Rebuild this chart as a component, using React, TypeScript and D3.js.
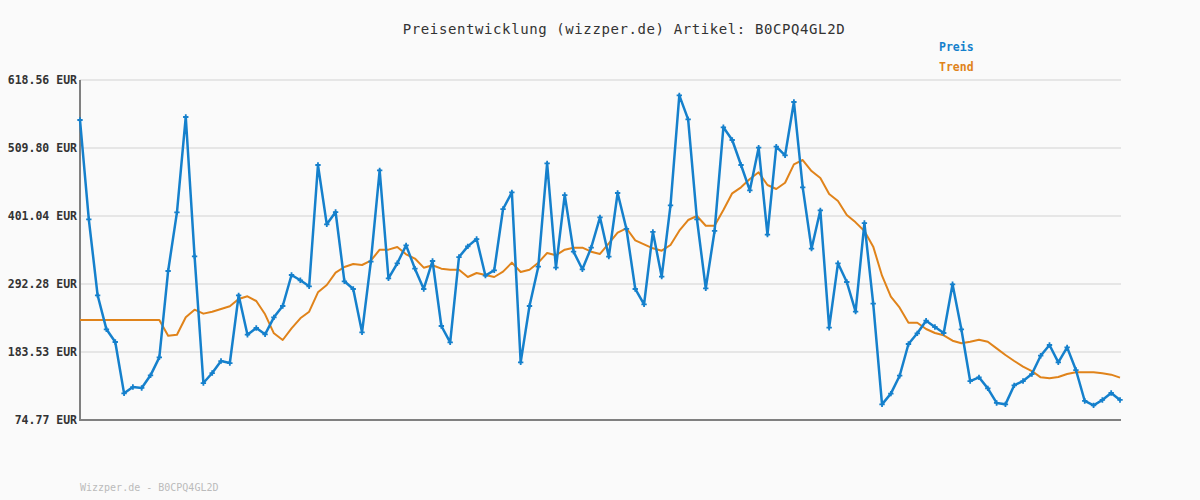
import React from "react";
import * as d3 from "d3";

const TITLE = "Preisentwicklung (wizzper.de) Artikel: B0CPQ4GL2D";
const FOOTER = "Wizzper.de - B0CPQ4GL2D";
const yTicks = [74.77, 183.53, 292.28, 401.04, 509.8, 618.56];
const yTickLabels = ["74.77 EUR", "183.53 EUR", "292.28 EUR", "401.04 EUR", "509.80 EUR", "618.56 EUR"];
const legendLabels = ["Preis", "Trend"];

const preis = [
  554.6, 395.8, 274.2, 219.8, 199.5, 117.4, 127.5, 126.0, 146.2, 175.0,
  313.1, 406.9, 559.4, 336.5, 133.9, 149.9, 169.1, 165.9, 274.2, 211.2,
  221.9, 211.8, 239.0, 257.1, 306.7, 298.2, 288.6, 482.6, 387.7, 407.4,
  296.6, 284.3, 215.0, 328.0, 474.1, 301.4, 325.4, 354.1, 316.8, 284.3,
  329.1, 225.1, 199.0, 335.4, 352.5, 364.2, 305.6, 314.2, 412.2, 438.9,
  167.0, 257.1, 320.0, 485.3, 318.4, 434.6, 344.0, 315.8, 350.4, 398.9,
  336.0, 437.8, 380.3, 284.3, 259.8, 375.5, 304.0, 418.1, 594.0, 555.6,
  395.8, 285.4, 377.1, 542.9, 522.6, 482.6, 442.1, 510.3, 371.2, 511.9,
  498.1, 583.4, 446.9, 348.8, 410.1, 222.4, 325.4, 295.5, 248.0, 389.8,
  260.8, 99.8, 116.9, 145.6, 196.3, 213.4, 233.6, 223.5, 213.9, 291.8,
  219.8, 137.1, 143.0, 125.4, 102.0, 99.8, 130.2, 137.1, 148.3, 177.6,
  194.7, 167.0, 191.0, 154.7, 105.2, 98.2, 106.8, 118.0, 106.8,
];

const trend = [
  234.7, 234.7, 234.7, 234.7, 234.7, 234.7, 234.7, 234.7, 234.7, 234.7,
  209.6, 211.2, 239.0, 251.2, 244.9, 248.0, 252.3, 256.6, 268.3, 272.6,
  265.1, 243.8, 213.4, 202.7, 221.4, 237.4, 248.0, 279.0, 290.7, 310.4,
  319.5, 324.3, 322.7, 329.6, 347.2, 347.2, 351.5, 339.8, 333.0, 318.4,
  322.2, 316.8, 315.2, 315.2, 303.5, 309.9, 306.7, 303.5, 312.0, 326.4,
  311.5, 315.2, 326.4, 341.9, 338.2, 347.2, 350.4, 350.4, 344.0, 340.3,
  357.4, 374.4, 381.4, 362.2, 355.8, 349.4, 345.6, 354.7, 377.5, 394.6,
  401.0, 385.5, 385.5, 410.6, 437.3, 446.9, 460.2, 470.9, 450.6, 444.2,
  454.3, 483.7, 490.6, 473.0, 461.8, 436.2, 425.0, 402.6, 390.9, 377.1,
  352.0, 305.6, 272.0, 254.4, 230.4, 230.4, 220.3, 213.9, 210.2, 201.6,
  197.4, 200.0, 203.2, 200.0, 189.4, 178.7, 169.1, 160.1, 153.1, 143.0,
  141.4, 143.5, 148.3, 151.0, 151.0, 151.0, 149.4, 147.3, 142.5,
];

const BLUE = "#1580cc";
const ORANGE = "#e0831a";
const MONO = "'DejaVu Sans Mono', 'Liberation Mono', monospace";

export default function App() {
  const W = 1200, H = 500;
  const left = 80, right = 1120, top = 80, bottom = 420;
  const x = d3.scaleLinear().domain([0, preis.length - 1]).range([left, right]);
  const y = d3.scaleLinear().domain([74.77, 618.56]).range([bottom, top]);
  const line = d3.line<number>().x((_, i) => x(i)).y((d) => y(d));
  const marker = d3.symbol().type(d3.symbolCross).size(16)() as string;

  return (
    <svg width={W} height={H} style={{ position: "absolute", left: 0, top: 0 }}>
      <rect width={W} height={H} fill="#fafafa" />
      <text x={624} y={34} textAnchor="middle" fontFamily={MONO} fontSize={14} letterSpacing={0.6} fill="#333">
        {TITLE}
      </text>
      <text x={939} y={51} fontFamily={MONO} fontSize={11.5} fontWeight="bold" fill={BLUE}>{legendLabels[0]}</text>
      <text x={939} y={71} fontFamily={MONO} fontSize={11.5} fontWeight="bold" fill={ORANGE}>{legendLabels[1]}</text>
      {yTicks.map((t, i) => (
        <g key={i}>
          {i > 0 && <line x1={left} x2={right + 1} y1={y(t)} y2={y(t)} stroke="#e6e6e6" strokeWidth={2} />}
          <text x={77} y={y(t) + 4} textAnchor="end" fontFamily={MONO} fontSize={11.5} fontWeight="bold" fill="#333">
            {yTickLabels[i]}
          </text>
        </g>
      ))}
      <line x1={left} x2={left} y1={top} y2={bottom + 1} stroke="#808080" strokeWidth={2} />
      <line x1={left - 1} x2={right + 1} y1={bottom} y2={bottom} stroke="#808080" strokeWidth={2} />
      <path d={line(trend) as string} fill="none" stroke={ORANGE} strokeWidth={2} strokeLinejoin="round" />
      <path d={line(preis) as string} fill="none" stroke={BLUE} strokeWidth={2.5} strokeLinejoin="round" />
      {preis.map((v, i) => (
        <path key={i} d={marker} transform={`translate(${x(i)},${y(v)})`} fill={BLUE} />
      ))}
      <text x={80} y={491} fontFamily={MONO} fontSize={10} fill="#bbb">{FOOTER}</text>
    </svg>
  );
}
